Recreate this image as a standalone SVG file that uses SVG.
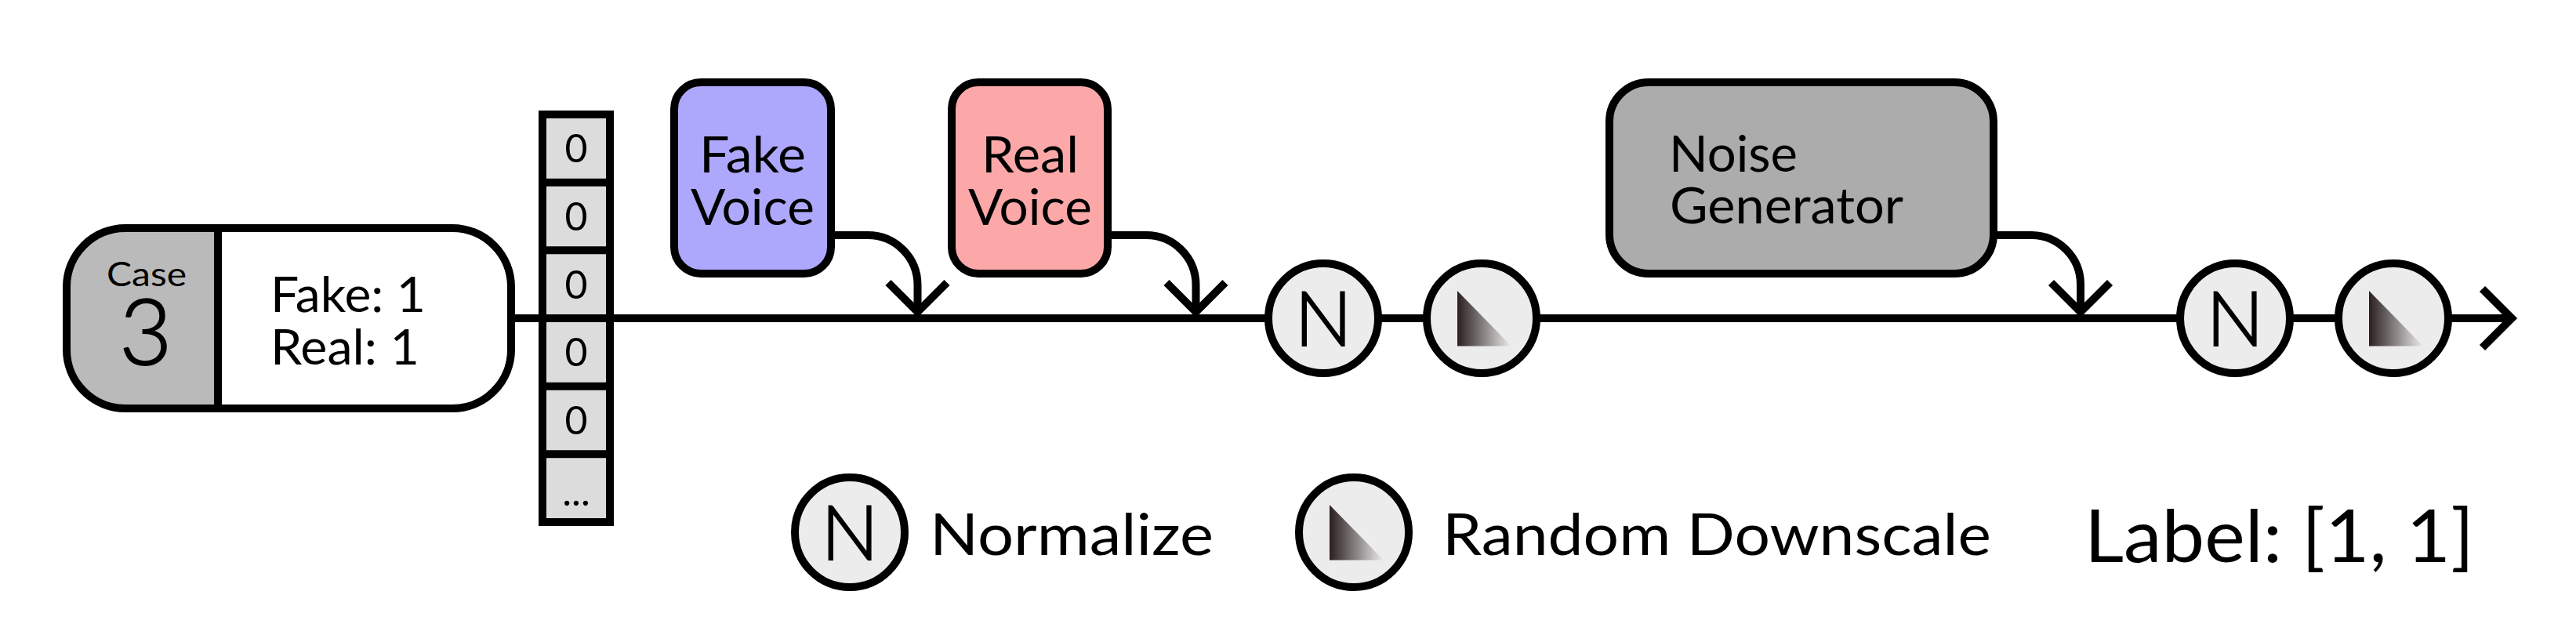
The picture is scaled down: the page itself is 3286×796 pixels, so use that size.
<svg xmlns="http://www.w3.org/2000/svg" width="3286" height="796" viewBox="0 0 3286 796">
<style>
text{font-family:"Lato","Liberation Sans",sans-serif;fill:#000}
.s{stroke:#000;stroke-width:10}
.l{fill:none;stroke:#000;stroke-width:10}
.c{fill:#ececec;stroke:#000;stroke-width:10}
.m{text-anchor:middle}
.n{font-size:97px;text-anchor:middle;font-weight:300;stroke:#000;stroke-width:2}
.b{font-size:64px;text-anchor:middle}
.z{font-size:50px;text-anchor:middle}
.g{font-size:74px}
</style>
<defs>
<linearGradient id="fade" x1="0" y1="0" x2="1" y2="0"><stop offset="0" stop-color="#2a1f1f"/><stop offset="1" stop-color="#ececec"/></linearGradient>
<path id="tri" d="M-31-35V35.500H38Z" fill="url(#fade)"/>
</defs>
<rect width="3286" height="796" fill="#fff"/>
<g id="connectors">
<path class="l" d="M652 406H3204"/>
<path class="l" d="M3166.500 368.500L3204 406L3166.500 443.500"/>
<path class="l" d="M1060 300H1107A63.500 63.500 0 0 1 1170.500 363.500V398"/>
<path class="l" d="M1133 360.500L1170.500 398L1208 360.500"/>
<path class="l" d="M1413 300H1462A63.500 63.500 0 0 1 1525.500 363.500V398"/>
<path class="l" d="M1488 360.500L1525.500 398L1563 360.500"/>
<path class="l" d="M2543 300H2592A63 63 0 0 1 2654 363V398"/>
<path class="l" d="M2616.500 360.500L2654 398L2691.500 360.500"/>
</g>
<g id="case">
<rect x="85" y="291" width="567" height="230" rx="75" fill="#fff"/>
<path d="M278 291H160A75 75 0 0 0 85 366V446A75 75 0 0 0 160 521H278Z" fill="#bababa"/>
<rect class="l" x="85" y="291" width="567" height="230" rx="75"/>
<path class="l" d="M278 291V521"/>
<text class="m" x="187" y="365" font-size="43" textLength="102" lengthAdjust="spacingAndGlyphs">Case</text>
<text class="m" x="186" y="465" font-size="116" font-weight="300" stroke="#000" stroke-width="2">3</text>
<text x="345" y="398" font-size="61" textLength="198" lengthAdjust="spacingAndGlyphs">Fake: 1</text>
<text x="345" y="465" font-size="61" textLength="190" lengthAdjust="spacingAndGlyphs">Real: 1</text>
</g>
<g id="vector">
<rect x="692" y="146" width="86" height="520" fill="#dcdcdc" stroke="#000" stroke-width="10"/>
<path class="l" d="M692 232.700H778M692 319.300H778M692 406H778M692 492.700H778M692 579.300H778"/>
<text class="z" x="735" y="207">0</text>
<text class="z" x="735" y="294">0</text>
<text class="z" x="735" y="381">0</text>
<text class="z" x="735" y="467">0</text>
<text class="z" x="735" y="554">0</text>
<text class="z" x="735" y="645">...</text>
</g>
<g id="fake-voice">
<rect class="s" x="860" y="105" width="200" height="244" rx="34" fill="#ada8fc"/>
<text class="b" x="960" y="220" textLength="136" lengthAdjust="spacingAndGlyphs">Fake</text>
<text class="b" x="960" y="287" textLength="158" lengthAdjust="spacingAndGlyphs">Voice</text>
</g>
<g id="real-voice">
<rect class="s" x="1214" y="105" width="199" height="244" rx="34" fill="#fca8a8"/>
<text class="b" x="1314" y="220" textLength="124" lengthAdjust="spacingAndGlyphs">Real</text>
<text class="b" x="1314" y="287" textLength="158" lengthAdjust="spacingAndGlyphs">Voice</text>
</g>
<g id="noise-generator">
<rect class="s" x="2053" y="105" width="490" height="244" rx="50" fill="#acacac"/>
<text x="2129" y="219" font-size="64" textLength="164" lengthAdjust="spacingAndGlyphs">Noise</text>
<text x="2130" y="285" font-size="64" textLength="298" lengthAdjust="spacingAndGlyphs">Generator</text>
</g>
<g id="normalize-1"><circle class="c" cx="1688" cy="406" r="70"/><text class="n" x="1688" y="441">N</text></g>
<g id="downscale-1"><circle class="c" cx="1890" cy="406" r="70"/><use href="#tri" x="1890" y="406"/></g>
<g id="normalize-2"><circle class="c" cx="2851" cy="406" r="70"/><text class="n" x="2851" y="441">N</text></g>
<g id="downscale-2"><circle class="c" cx="3053" cy="406" r="70"/><use href="#tri" x="3053" y="406"/></g>
<g id="legend-normalize"><circle class="c" cx="1084" cy="679" r="70"/><text class="n" x="1084" y="714">N</text><text class="g" x="1186" y="708" textLength="362" lengthAdjust="spacingAndGlyphs">Normalize</text></g>
<g id="legend-downscale"><circle class="c" cx="1727" cy="679" r="70"/><use href="#tri" x="1727" y="679"/><text class="g" x="1840" y="708" textLength="700" lengthAdjust="spacingAndGlyphs">Random Downscale</text></g>
<g id="label"><text x="2659" y="717" font-size="93" textLength="497" lengthAdjust="spacingAndGlyphs">Label: [1, 1]</text></g>
</svg>
